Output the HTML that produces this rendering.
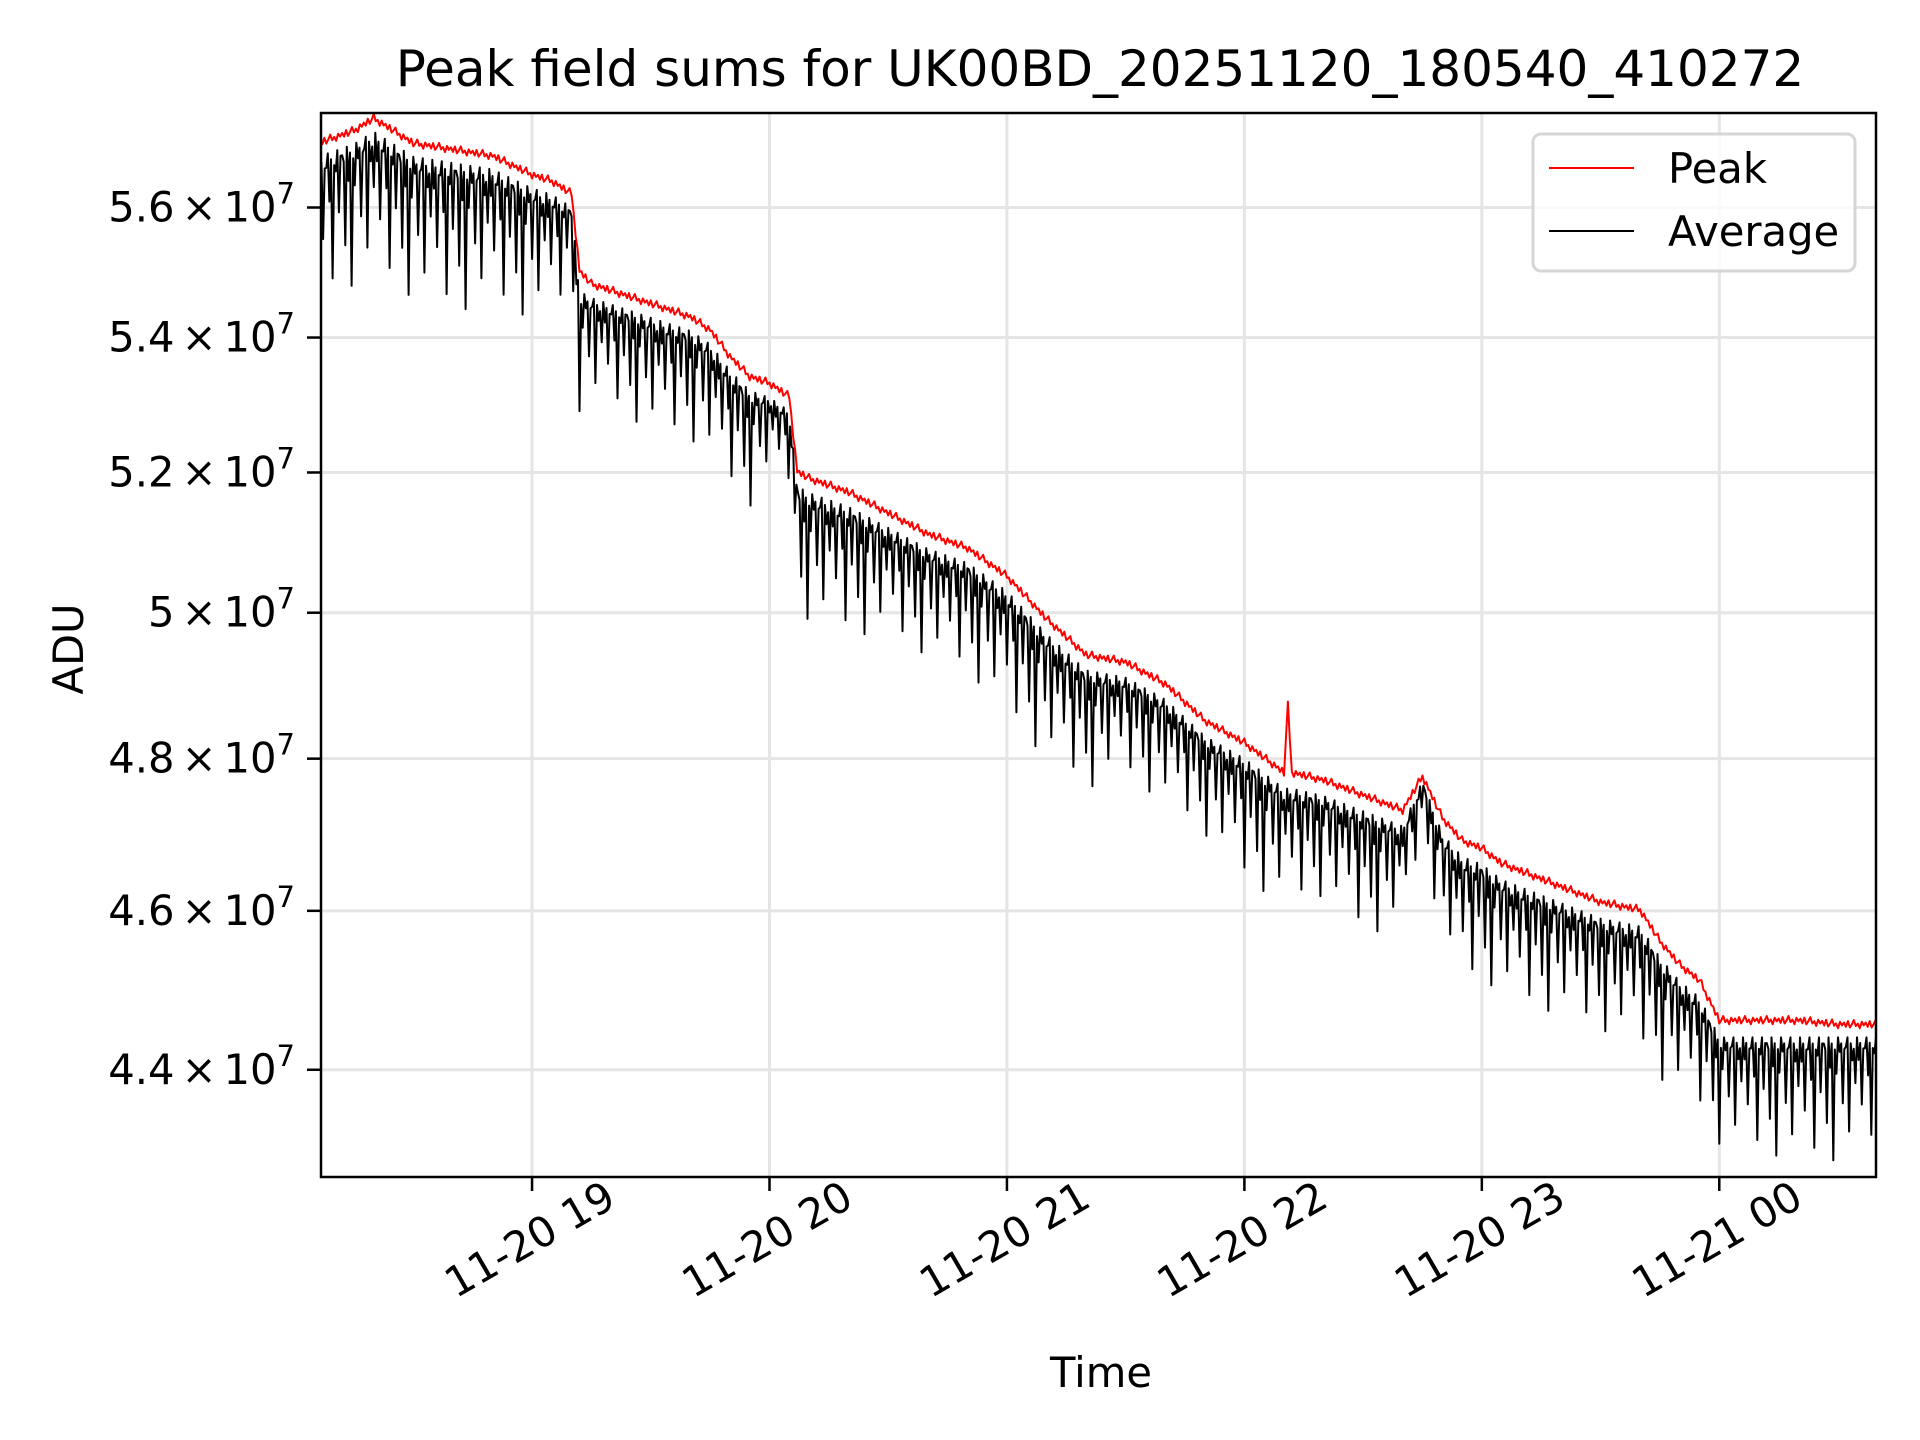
<!DOCTYPE html>
<html><head><meta charset="utf-8"><style>
html,body{margin:0;padding:0;background:#fff;}
svg{display:block;font-family:"DejaVu Sans","Liberation Sans",sans-serif;}
</style></head><body>
<svg id="chart" width="1920" height="1440" viewBox="0 0 1920 1440">
<rect width="1920" height="1440" fill="#fff"/>
<g id="grid"></g>
<g id="clipdef"><clipPath id="cp"><rect x="321" y="113" width="1555" height="1064"/></clipPath></g>
<g id="series" clip-path="url(#cp)"></g>
<rect x="321" y="113" width="1555" height="1064" fill="none" stroke="#000" stroke-width="2.5"/>
<g id="axes"></g>
<text x="1100" y="86" text-anchor="middle" font-size="50">Peak field sums for UK00BD_20251120_180540_410272</text>
<text x="1101" y="1387" text-anchor="middle" font-size="41.7">Time</text>
<text transform="translate(83,649) rotate(-90)" text-anchor="middle" font-size="41.7">ADU</text>
<g>
<rect x="1533" y="134" width="322" height="137" rx="8" fill="#fff" fill-opacity="0.8" stroke="#d6d6d6" stroke-width="3"/>
<line x1="1549" y1="168" x2="1634" y2="168" stroke="#f00" stroke-width="2"/>
<text x="1668" y="183" font-size="41.7">Peak</text>
<line x1="1549" y1="231" x2="1634" y2="231" stroke="#000" stroke-width="2"/>
<text x="1668" y="246" font-size="41.7">Average</text>
</g>
</svg>
<script>
// minutes since 18:00
const times = [6,15,20,30,40,50,60,65,70,72,75,80,90,100,105,110,115,120,125,127,130,140,150,160,170,180,190,200,210,220,230,240,250,251,252,260,270,280,285,290,295,300,305,310,320,330,340,345,350,355,360,370,380,390,399.6];
const peakVals = [5.70,5.72,5.74,5.70,5.69,5.68,5.65,5.64,5.62,5.50,5.48,5.47,5.45,5.43,5.41,5.37,5.34,5.33,5.31,5.20,5.19,5.17,5.14,5.11,5.09,5.05,4.99,4.94,4.93,4.90,4.85,4.82,4.78,4.87,4.78,4.77,4.75,4.73,4.775,4.72,4.69,4.68,4.66,4.65,4.63,4.61,4.60,4.56,4.53,4.51,4.46,4.46,4.46,4.455,4.455];
const avgTop = [5.68,5.70,5.72,5.68,5.67,5.66,5.63,5.62,5.60,5.47,5.46,5.45,5.43,5.41,5.39,5.35,5.32,5.31,5.29,5.18,5.17,5.15,5.12,5.09,5.07,5.03,4.97,4.92,4.91,4.88,4.83,4.80,4.76,4.76,4.76,4.75,4.73,4.71,4.77,4.70,4.67,4.66,4.64,4.63,4.61,4.59,4.58,4.54,4.51,4.49,4.44,4.44,4.44,4.44,4.44];
const avgLow = [5.46,5.48,5.50,5.46,5.44,5.45,5.43,5.44,5.46,5.29,5.30,5.30,5.26,5.25,5.22,5.18,5.15,5.20,5.18,5.00,4.99,4.97,4.97,4.94,4.92,4.86,4.80,4.76,4.78,4.74,4.70,4.64,4.61,4.61,4.61,4.62,4.57,4.58,4.70,4.56,4.51,4.51,4.50,4.48,4.47,4.45,4.43,4.39,4.37,4.35,4.31,4.30,4.29,4.29,4.31];
const dipPattern = [0.2,0.6,0.1,0.35,0.9,0.15,0.45,0.05,0.7,0.25,1,0.3,0.12,0.55,0.08,0.8,0.2,0.4];
const peakJitter = [0,0.0008,-0.0004,0.0012,-0.0006,0.0003,0.0015,-0.0002,0.0005,-0.0008,0.001];
const yTicks = [5.6,5.4,5.2,5.0,4.8,4.6,4.4];
const yTickLabels = ["5.6","5.4","5.2","5","4.8","4.6","4.4"];
const xTicks = [60,120,180,240,300,360];
const xTickLabels = ["11-20 19","11-20 20","11-20 21","11-20 22","11-20 23","11-21 00"];

const NS="http://www.w3.org/2000/svg";
const L=321,R=1876,T=113,B=1177;
const xMin=6.67,xMax=399.6,yMin=4.27,yMax=5.75;
const X=t=>L+(t-xMin)/(xMax-xMin)*(R-L);
const Y=v=>B-(Math.log(v)-Math.log(yMin))/(Math.log(yMax)-Math.log(yMin))*(B-T);
function mk(tag,attrs,parent){const e=document.createElementNS(NS,tag);for(const k in attrs)e.setAttribute(k,attrs[k]);parent.appendChild(e);return e;}
const grid=document.getElementById('grid'),axes=document.getElementById('axes'),series=document.getElementById('series');

yTicks.forEach((v,i)=>{
  const y=Y(v);
  const g=mk('line',{x1:L,x2:R,y1:y,y2:y,stroke:'#e5e5e5','stroke-width':3},grid);
  
  
  const tk=mk('line',{x1:L-14,x2:L,y1:y,y2:y,stroke:'#000','stroke-width':2.5},axes);
  
  
  const t=mk('text',{x:L-26,y:y+14,'text-anchor':'end','font-size':41.7},axes);
  
  
  t.innerHTML=yTickLabels[i]+'<tspan dx="7">×</tspan><tspan dx="7">10</tspan><tspan dy="-18" font-size="29">7</tspan>';
});
xTicks.forEach((v,i)=>{
  const x=X(v);
  const g=mk('line',{x1:x,x2:x,y1:T,y2:B,stroke:'#e5e5e5','stroke-width':3},grid);
  
  
  const tk=mk('line',{x1:x,x2:x,y1:B,y2:B+14,stroke:'#000','stroke-width':2.5},axes);
  
  
  const t=mk('text',{transform:`translate(${x+86},${B+28}) rotate(-30)`,'text-anchor':'end','font-size':41.7},axes);
  
  
  t.textContent=xTickLabels[i];
});

function interp(arr,t){for(let i=0;i<times.length-1;i++){if(t>=times[i]&&t<=times[i+1]){const f=(t-times[i])/(times[i+1]-times[i]);return arr[i]+(arr[i+1]-arr[i])*f;}}return arr[arr.length-1];}

let pd='',kp=0;
for(let t=times[0];t<=times[times.length-1]+0.01;t+=0.5){
  const v=interp(peakVals,t)*(1+peakJitter[kp%peakJitter.length]);
  pd+=(kp?'L':'M')+X(t).toFixed(1)+','+Y(v).toFixed(1);kp++;
}
const peak=mk('path',{d:pd,fill:'none',stroke:'#f00','stroke-width':2,'stroke-linejoin':'round'},series);



let d='',k=0;
for(let t=times[0];t<=times[times.length-1];t+=0.4){
  const p=interp(avgTop,t),lo=interp(avgLow,t);
  let v;
  if(k%2===0){v=p-(p-lo)*0.05*((k/2)%3);}else{const f=dipPattern[((k-1)/2)%dipPattern.length];v=p-(p-lo)*f;}
  d+=(k?'L':'M')+X(t).toFixed(1)+','+Y(v).toFixed(1);
  k++;
}
const avg=mk('path',{d:d,fill:'none',stroke:'#000','stroke-width':2,'stroke-linejoin':'round'},series);


</script>
</body></html>
